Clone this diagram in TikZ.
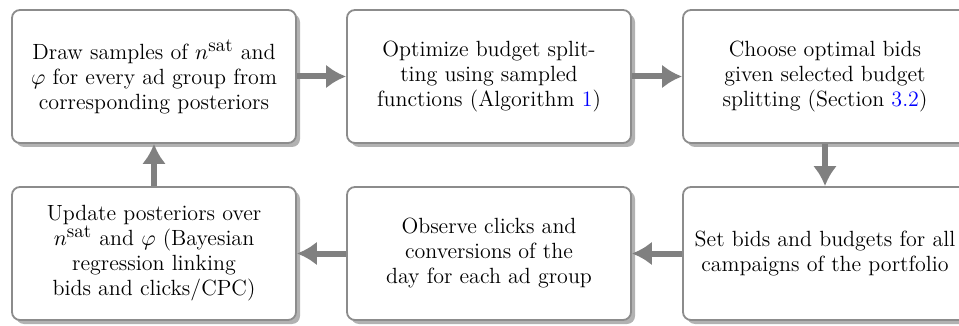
\documentclass[tikz,border=0pt]{standalone}
\usetikzlibrary{shadows,arrows.meta}
\newcommand{\nsatsym}{$n^{\mbox{\fontsize{9.5}{10}\selectfont sat}}$}
\begin{document}
\begin{tikzpicture}[x=0.5pt,y=-0.5pt,
  stepbox/.style={draw=black!45, line width=0.9pt, fill=white, rounded corners=4pt,
    minimum width=142pt, minimum height=66.5pt, align=center, inner sep=2pt,
    font=\fontsize{11}{12.5}\selectfont,
    drop shadow={shadow xshift=2pt, shadow yshift=-2pt, fill=black!30, opacity=1}},
  flow/.style={draw=black!50, line width=3pt, -{Latex[length=10pt,width=12pt]}}]
\useasboundingbox (0,0) rectangle (959,326);
\node[stepbox] (a) at (154,76.5) {Draw samples of \nsatsym{} and\\ $\varphi$ for every ad group from\\ corresponding posteriors};
\node[stepbox] (b) at (489,76.5) {Optimize budget split-\\ ting using sampled\\ functions (Algorithm \textcolor{blue}{1})};
\node[stepbox] (c) at (825,76.5) {Choose optimal bids\\ given selected budget\\ splitting (Section \textcolor{blue}{3.2})};
\node[stepbox] (f) at (825,253.5) {Set bids and budgets for all\\ campaigns of the portfolio};
\node[stepbox] (e) at (489,253.5) {Observe clicks and\\ conversions of the\\ day for each ad group};
\node[stepbox] (d) at (154,253.5) {Update posteriors over\\ \nsatsym{} and $\varphi$ (Bayesian\\ regression linking\\ bids and clicks/CPC)};
\draw[flow] (a) -- (b);
\draw[flow] (b) -- (c);
\draw[flow] (c) -- (f);
\draw[flow] (f) -- (e);
\draw[flow] (e) -- (d);
\draw[flow] (d) -- (a);
\end{tikzpicture}
\end{document}
